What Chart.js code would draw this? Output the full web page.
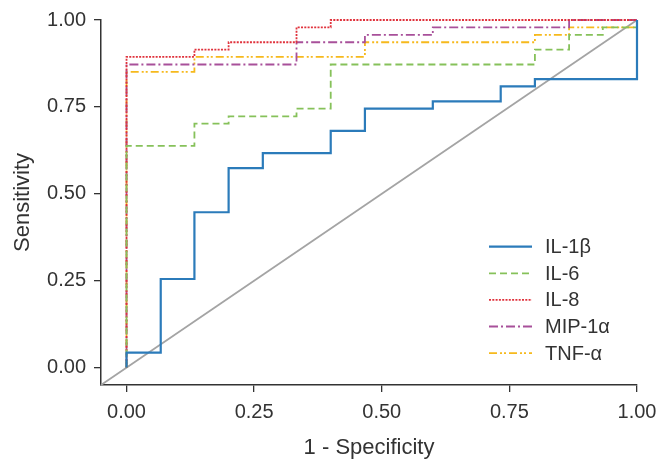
<!DOCTYPE html>
<html>
<head>
<meta charset="utf-8">
<script src="https://cdn.jsdelivr.net/npm/chart.js@4/dist/chart.umd.min.js"></script>
<style>
html,body{margin:0;padding:0;background:#fff;}
canvas{display:block;}
</style>
</head>
<body>
<canvas id="c" width="669" height="469"></canvas>
<script>
// ROC step-path vertices (x = 1 - specificity, y = sensitivity)
const seriesNames = ['IL-1\u03b2', 'IL-6', 'IL-8', 'MIP-1\u03b1', 'TNF-\u03b1'];

const fprIL1b = [0, 0, 0.067, 0.067, 0.133, 0.133, 0.2, 0.2, 0.267, 0.267, 0.4, 0.4, 0.467, 0.467, 0.6, 0.6, 0.733, 0.733, 0.8, 0.8, 1, 1];
const tprIL1b = [0, 0.043, 0.043, 0.255, 0.255, 0.447, 0.447, 0.574, 0.574, 0.617, 0.617, 0.681, 0.681, 0.745, 0.745, 0.766, 0.766, 0.809, 0.809, 0.830, 0.830, 1];

const fprIL6 = [0, 0, 0.133, 0.133, 0.2, 0.2, 0.333, 0.333, 0.4, 0.4, 0.8, 0.8, 0.867, 0.867, 0.933, 0.933, 1, 1];
const tprIL6 = [0, 0.638, 0.638, 0.702, 0.702, 0.723, 0.723, 0.745, 0.745, 0.872, 0.872, 0.915, 0.915, 0.957, 0.957, 0.979, 0.979, 1];

const fprIL8 = [0, 0, 0.133, 0.133, 0.2, 0.2, 0.333, 0.333, 0.4, 0.4, 1];
const tprIL8 = [0, 0.894, 0.894, 0.915, 0.915, 0.936, 0.936, 0.979, 0.979, 1, 1];

const fprMIP = [0, 0, 0.333, 0.333, 0.467, 0.467, 0.6, 0.6, 0.867, 0.867, 1];
const tprMIP = [0, 0.872, 0.872, 0.936, 0.936, 0.957, 0.957, 0.979, 0.979, 1, 1];

const fprTNF = [0, 0, 0.133, 0.133, 0.467, 0.467, 0.8, 0.8, 0.867, 0.867, 1, 1];
const tprTNF = [0, 0.851, 0.851, 0.894, 0.894, 0.936, 0.936, 0.957, 0.957, 0.979, 0.979, 1];

const refX = [-0.05, 1];
const refY = [-0.05, 1];

const tickValues = [0, 0.25, 0.5, 0.75, 1];
const tickLabels = ['0.00', '0.25', '0.50', '0.75', '1.00'];

const colors = ['#2b7bba', '#86c15a', '#e0323c', '#a8509a', '#f6b91c'];
const dashes = [[], [7, 4], [2, 1.3], [9, 3, 2, 3], [8, 3, 2, 2, 2, 3]];
const widths = [2.2, 1.8, 1.8, 1.8, 1.8];

const fprs = [fprIL1b, fprIL6, fprIL8, fprMIP, fprTNF];
const tprs = [tprIL1b, tprIL6, tprIL8, tprMIP, tprTNF];

const zip = (xs, ys) => xs.map((x, i) => ({x: x, y: ys[i]}));

const datasets = seriesNames.map((n, i) => ({
  label: n,
  data: zip(fprs[i], tprs[i]),
  borderColor: colors[i],
  borderWidth: widths[i],
  borderDash: dashes[i],
  pointRadius: 0,
  fill: false,
  tension: 0,
  clip: false
}));
datasets.push({
  label: 'reference',
  data: zip(refX, refY),
  borderColor: '#a4a4a4',
  borderWidth: 1.8,
  pointRadius: 0,
  fill: false,
  clip: false
});

const FONT = "'Liberation Sans', Arial, sans-serif";
const TXT = '#333333';

const legendPlugin = {
  id: 'customLegend',
  afterDraw(chart) {
    const ctx = chart.ctx;
    ctx.save();
    const x0 = 489, x1 = 532, tx = 545;
    const y0 = 246.7, dy = 26.6;
    seriesNames.forEach((n, i) => {
      const y = y0 + i * dy;
      ctx.beginPath();
      ctx.strokeStyle = colors[i];
      ctx.lineWidth = widths[i];
      ctx.setLineDash(dashes[i]);
      ctx.moveTo(x0, y);
      ctx.lineTo(x1, y);
      ctx.stroke();
      ctx.setLineDash([]);
      ctx.fillStyle = TXT;
      ctx.font = '20px ' + FONT;
      ctx.textBaseline = 'middle';
      ctx.textAlign = 'left';
      ctx.fillText(n, tx, y + 1);
    });
    ctx.restore();
  }
};

new Chart(document.getElementById('c'), {
  type: 'line',
  data: {datasets: datasets},
  plugins: [legendPlugin],
  options: {
    responsive: false,
    animation: false,
    events: [],
    layout: {padding: {top: 20, right: 32, left: 0, bottom: 0}},
    plugins: {legend: {display: false}, tooltip: {enabled: false}},
    scales: {
      x: {
        type: 'linear',
        min: -0.05,
        max: 1,
        afterBuildTicks: s => { s.ticks = tickValues.map(v => ({value: v})); },
        afterFit: s => { s.height = 84; },
        ticks: {
          color: TXT,
          font: {family: FONT, size: 20},
          padding: 8,
          maxRotation: 0,
          callback: (v) => tickLabels[tickValues.indexOf(v)] ?? ''
        },
        grid: {display: true, drawOnChartArea: false, drawTicks: true, tickLength: 7, color: '#333', lineWidth: 1.3},
        border: {display: true, color: '#333', width: 1.5},
        title: {display: true, text: '1 - Specificity', color: TXT, font: {family: FONT, size: 22}, padding: {top: 0, bottom: 8}}
      },
      y: {
        type: 'linear',
        min: -0.05,
        max: 1,
        afterBuildTicks: s => { s.ticks = tickValues.map(v => ({value: v})); },
        afterFit: s => { s.width = 101; },
        ticks: {
          color: TXT,
          font: {family: FONT, size: 20},
          padding: 8,
          callback: (v) => tickLabels[tickValues.indexOf(v)] ?? ''
        },
        grid: {display: true, drawOnChartArea: false, drawTicks: true, tickLength: 7, color: '#333', lineWidth: 1.3},
        border: {display: true, color: '#333', width: 1.5},
        title: {display: true, text: 'Sensitivity', color: TXT, font: {family: FONT, size: 22}, padding: {top: 10, bottom: 0}}
      }
    }
  }
});
</script>
</body>
</html>
